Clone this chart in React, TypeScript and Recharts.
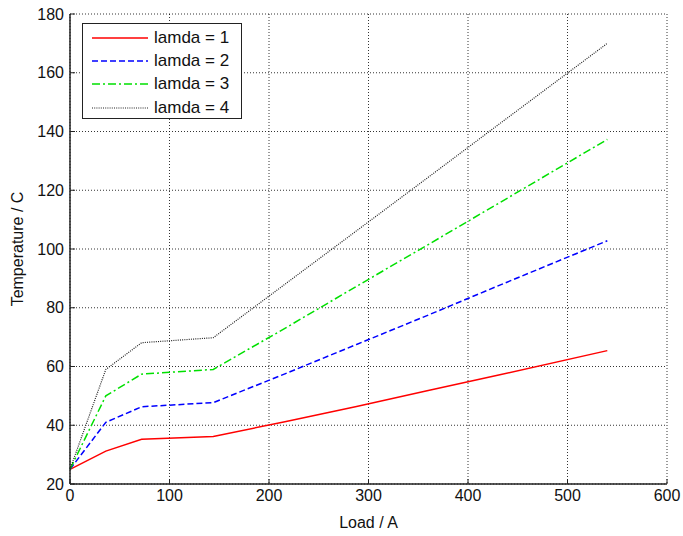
import React from "react";
import {
  LineChart, Line, XAxis, YAxis, CartesianGrid,
} from "recharts";

const load = [0, 36, 72, 144, 216, 288, 360, 432, 540];
const lamda1 = [25, 31.2, 35.2, 36.2, 41.2, 46.4, 51.8, 57.2, 65.4];
const lamda2 = [25, 41, 46.3, 47.7, 57.5, 67.5, 77.5, 87.7, 102.8];
const lamda3 = [25, 50, 57.4, 59, 73, 87.3, 101.5, 115.8, 137.3];
const lamda4 = [25, 59, 68.1, 69.8, 88, 106.2, 124.4, 142.7, 170];
const xTicks = [0, 100, 200, 300, 400, 500, 600];
const yTicks = [20, 40, 60, 80, 100, 120, 140, 160, 180];

const data = load.map((x, i) => ({
  load: x,
  l1: lamda1[i],
  l2: lamda2[i],
  l3: lamda3[i],
  l4: lamda4[i],
}));

const series = [
  { key: "l1", name: "lamda = 1", color: "#ff0000", dash: undefined, width: 1.5 },
  { key: "l2", name: "lamda = 2", color: "#0000ff", dash: "6 3", width: 1.5 },
  { key: "l3", name: "lamda = 3", color: "#00e000", dash: "8 3 2 3", width: 1.5 },
  { key: "l4", name: "lamda = 4", color: "#222222", dash: "1 1.2", width: 1.2 },
];

const font = "'Liberation Sans', Arial, sans-serif";
const tickStyle = { fontSize: 16, fill: "#111", fontFamily: font };

function LegendBox() {
  return (
    <div style={{
      position: "absolute", left: 82, top: 23, width: 160, height: 96, boxSizing: "border-box",
      border: "1.5px solid #222", background: "#fff", padding: "2px 0 0 9px", fontFamily: font,
    }}>
      {series.map((s) => (
        <div key={s.key} style={{ display: "flex", alignItems: "center", height: 23.3 }}>
          <svg width={58} height={10}>
            <line x1={0} y1={5} x2={56} y2={5} stroke={s.color} strokeWidth={s.width} strokeDasharray={s.dash} />
          </svg>
          <span style={{ fontSize: 17, color: "#111", marginLeft: 4 }}>{s.name}</span>
        </div>
      ))}
    </div>
  );
}

export default function App() {
  return (
    <div style={{ position: "absolute", left: 0, top: 0, width: 683, height: 536, background: "#fff" }}>
      <LineChart width={683} height={536} data={data} margin={{ top: 14, right: 16, left: 0, bottom: 0 }}>
        <CartesianGrid stroke="#000" strokeDasharray="1 2" strokeWidth={0.8} />
        <XAxis
          dataKey="load" type="number" domain={[0, 600]} ticks={xTicks}
          tick={tickStyle} tickSize={-5} tickMargin={11} height={52}
          axisLine={{ stroke: "#222", strokeWidth: 1.5 }} tickLine={{ stroke: "#222" }}
          label={{ value: "Load / A", position: "insideBottom", offset: 8, style: { fontSize: 16, fill: "#111", fontFamily: font } }}
        />
        <XAxis
          xAxisId="top" orientation="top" dataKey="load" type="number" domain={[0, 600]} ticks={xTicks}
          tickFormatter={() => ""} tickSize={-5} height={0}
          axisLine={{ stroke: "#222", strokeWidth: 1.5 }} tickLine={{ stroke: "#222" }}
        />
        <YAxis
          type="number" domain={[20, 180]} ticks={yTicks} tick={tickStyle}
          tickSize={-5} tickMargin={11} width={70}
          axisLine={{ stroke: "#222", strokeWidth: 1.5 }} tickLine={{ stroke: "#222" }}
          label={{ value: "Temperature / C", angle: -90, position: "insideLeft", offset: 17, style: { fontSize: 16, fill: "#111", fontFamily: font, textAnchor: "middle" } }}
        />
        <YAxis
          yAxisId="right" orientation="right" type="number" domain={[20, 180]} ticks={yTicks}
          tickFormatter={() => ""} tickSize={-5} width={0}
          axisLine={{ stroke: "#222", strokeWidth: 1.5 }} tickLine={{ stroke: "#222" }}
        />
        {series.map((s) => (
          <Line
            key={s.key} dataKey={s.key} name={s.name} stroke={s.color}
            strokeWidth={s.width} strokeDasharray={s.dash} dot={false}
            type="linear" isAnimationActive={false}
          />
        ))}
      </LineChart>
      <LegendBox />
    </div>
  );
}
